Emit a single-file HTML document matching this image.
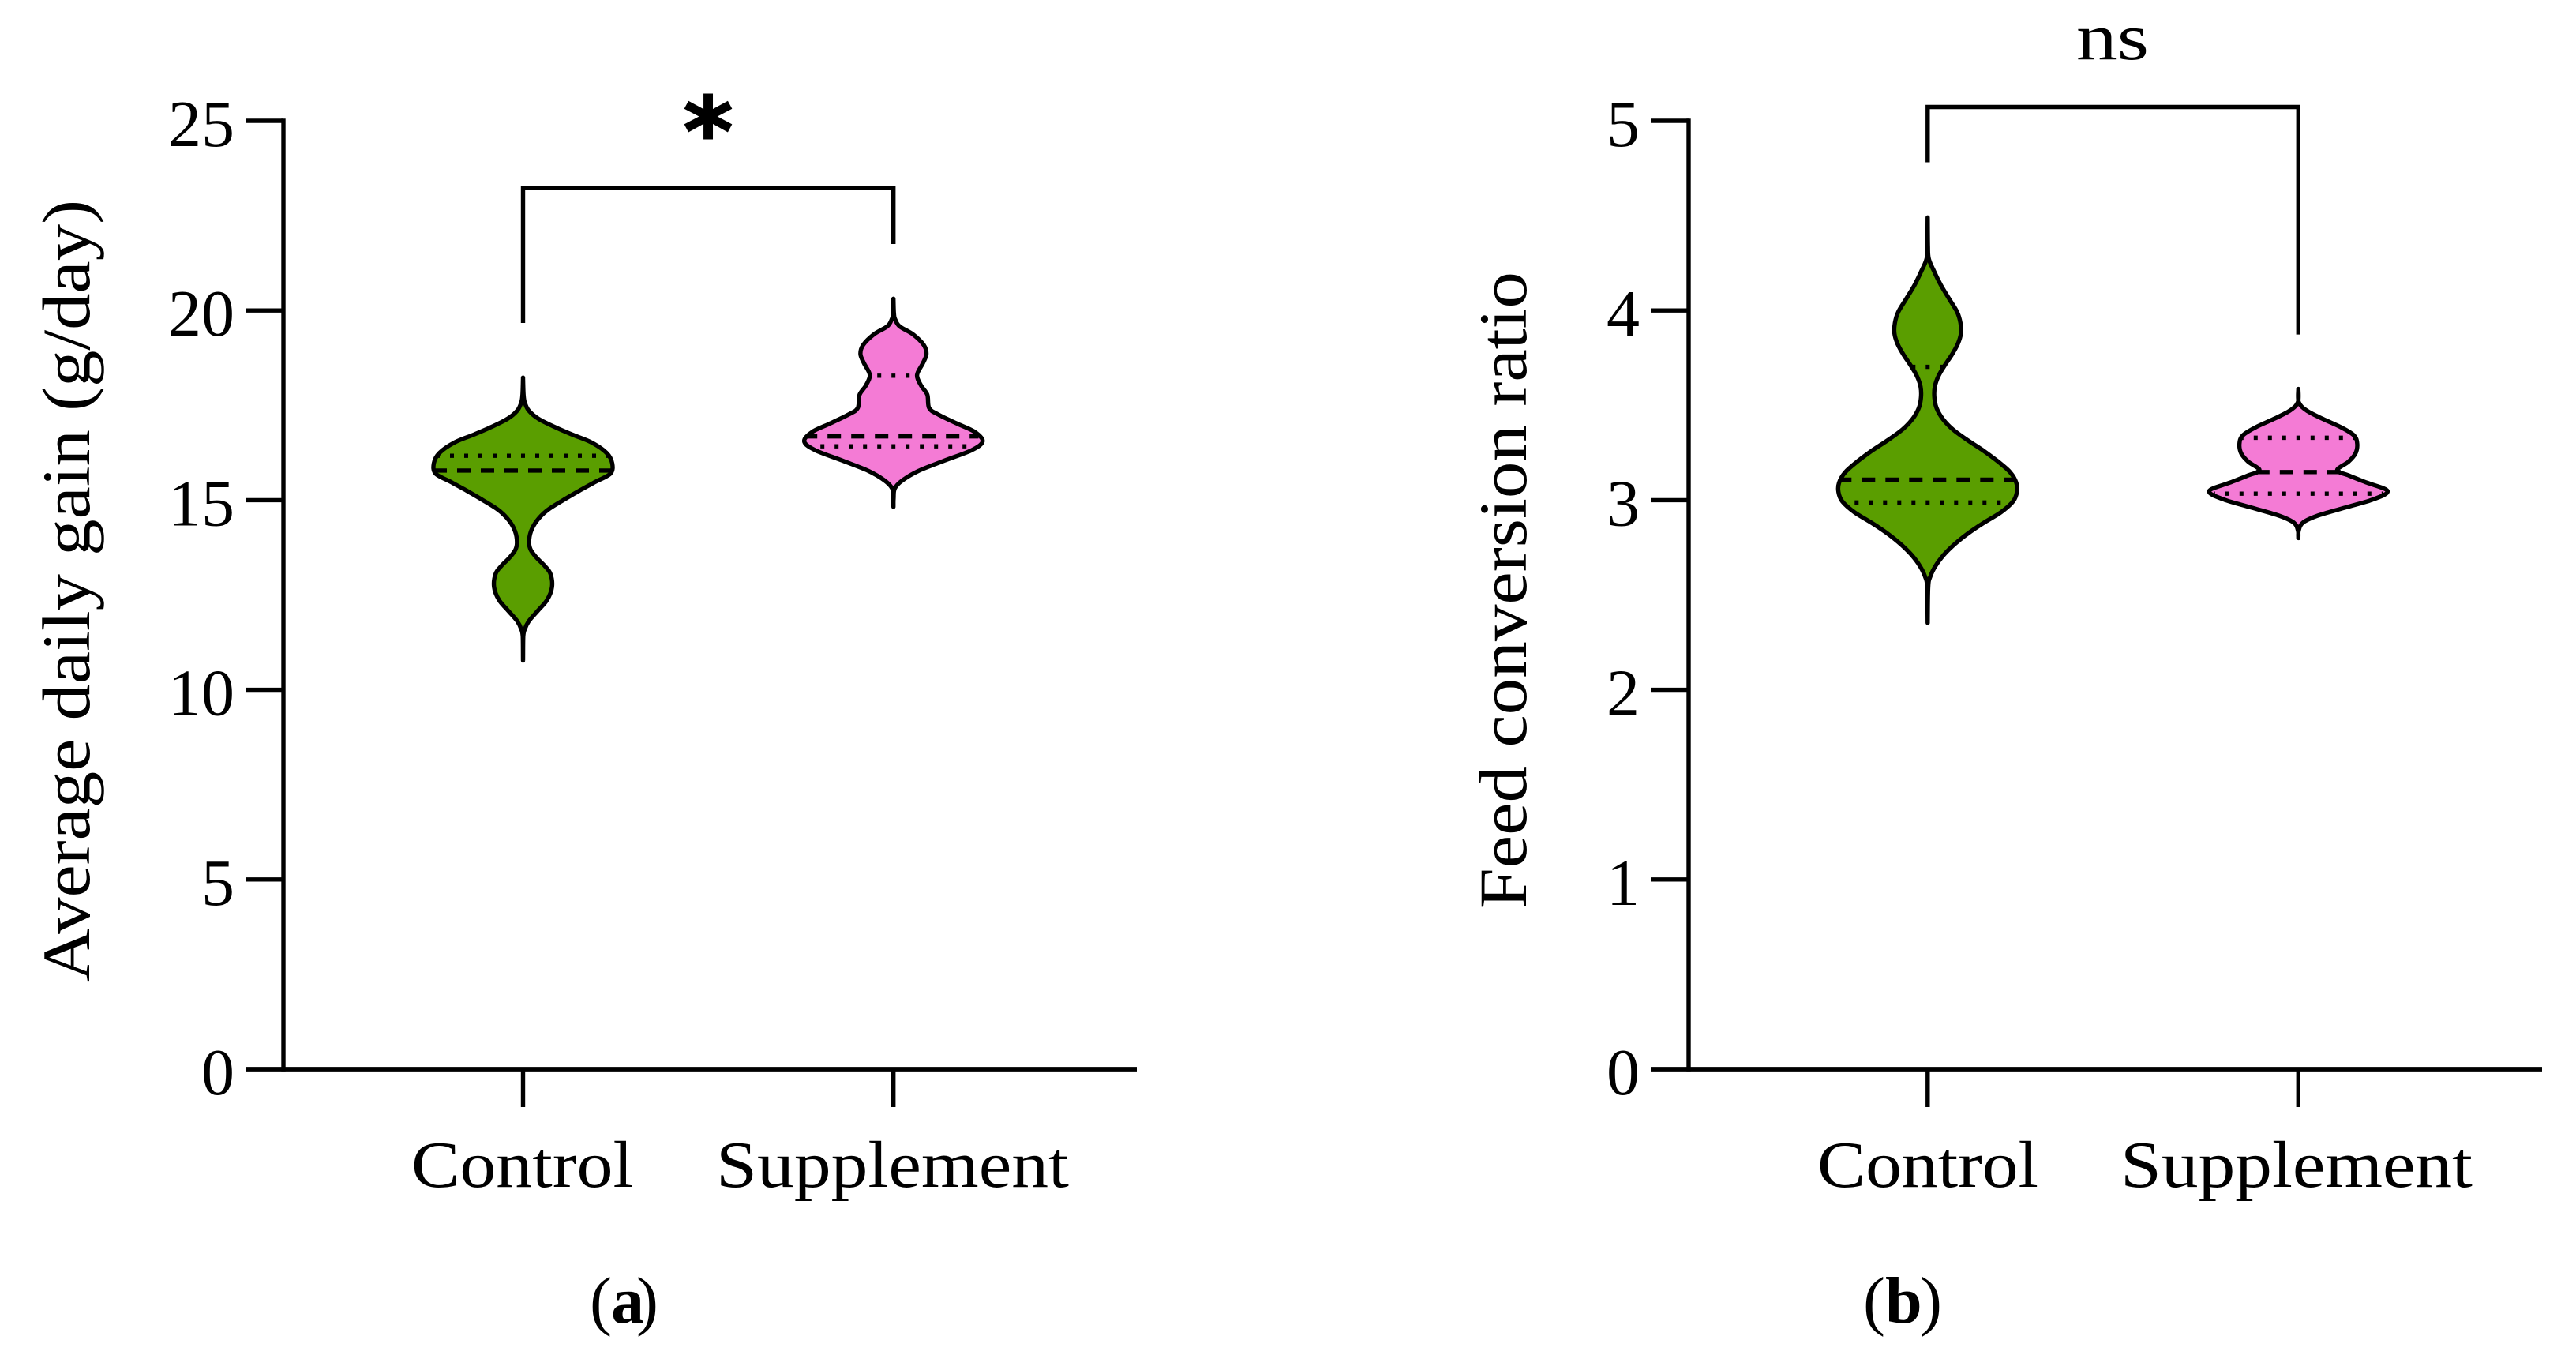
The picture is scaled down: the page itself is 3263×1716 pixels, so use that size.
<!DOCTYPE html>
<html lang="en">
<head>
<meta charset="utf-8">
<title>Violin plots: average daily gain and feed conversion ratio</title>
<style>
html,body{margin:0;padding:0;background:#fff;}
svg{display:block;}
text{font-family:"Liberation Serif","DejaVu Serif",serif;fill:#000;}
</style>
</head>
<body>
<svg id="figure" xmlns="http://www.w3.org/2000/svg" width="3263" height="1716" viewBox="0 0 3263 1716"></svg>
<script>
// Panel (a): average daily gain (g/day)
const gainTicks = [0, 5, 10, 15, 20, 25];
const gainControlValues = [18.23,17.78,17.57,17.36,17.15,16.94,16.73,16.53,16.25,15.97,15.70,15.49,15.28,15.0,14.73,14.45,14.17,13.89,13.69,13.48,13.27,13.06,12.71,12.37,12.09,11.81,11.60,11.40,10.77];
const gainControlDensity = [0,0.006,0.02,0.065,0.17,0.345,0.55,0.76,0.935,1,0.98,0.817,0.655,0.45,0.27,0.153,0.088,0.068,0.086,0.153,0.242,0.307,0.325,0.27,0.168,0.065,0.02,0.003,0];
const gainControlMedian = 15.78;
const gainControlQuartiles = [16.17];
const gainSupplementValues = [20.31,19.93,19.76,19.58,19.37,19.09,18.85,18.61,18.30,18.02,17.78,17.43,17.26,17.01,16.80,16.55,16.32,16.04,15.77,15.52,15.31,15.05,14.82];
const gainSupplementDensity = [0,0.005,0.02,0.07,0.22,0.34,0.37,0.33,0.265,0.31,0.38,0.40,0.50,0.72,0.91,1,0.88,0.57,0.28,0.10,0.015,0.002,0];
const gainSupplementMedian = 16.68;
const gainSupplementQuartiles = [18.28, 16.42];

// Panel (b): feed conversion ratio
const fcrTicks = [0, 1, 2, 3, 4, 5];
const fcrControlValues = [4.491,4.343,4.273,4.203,4.132,4.062,3.992,3.935,3.879,3.823,3.766,3.710,3.654,3.598,3.541,3.485,3.428,3.372,3.316,3.260,3.203,3.147,3.091,3.042,2.992,2.936,2.880,2.823,2.767,2.711,2.655,2.598,2.542,2.352];
const fcrControlDensity = [0,0.003,0.012,0.075,0.15,0.24,0.33,0.367,0.373,0.337,0.27,0.19,0.12,0.08,0.075,0.1,0.17,0.284,0.448,0.627,0.79,0.925,0.994,1,0.955,0.82,0.627,0.448,0.3,0.18,0.09,0.03,0.006,0];
const fcrControlMedian = 3.108;
const fcrControlQuartiles = [3.703, 2.988];
const fcrSupplementValues = [3.586,3.516,3.472,3.428,3.384,3.341,3.297,3.246,3.202,3.158,3.129,3.092,3.048,3.004,2.961,2.917,2.881,2.84,2.80];
const fcrSupplementDensity = [0,0.005,0.095,0.276,0.48,0.624,0.66,0.64,0.56,0.435,0.57,0.77,1,0.84,0.525,0.21,0.05,0.004,0];
const fcrSupplementMedian = 3.148;
const fcrSupplementQuartiles = [3.329, 3.034];

const NS = 'http://www.w3.org/2000/svg';
const fig = document.getElementById('figure');
const GREEN = '#5a9e00';
const PINK = '#f47bd5';
const LW = 5.4;
const Y_BASE = 1354;
const Y_TOP = 153;
const MAX_HALF = 113;

function make(tag, parent, attrs) {
  const el = document.createElementNS(NS, tag);
  for (const k in attrs) el.setAttribute(k, attrs[k]);
  parent.appendChild(el);
  return el;
}

function drawLine(parent, name, x1, y1, x2, y2, w) {
  const el = make('line', parent, {x1: x1, y1: y1, x2: x2, y2: y2, stroke: '#000', 'stroke-width': w || LW});
  
  
  return el;
}

function drawText(parent, name, str, attrs) {
  const el = make('text', parent, Object.assign({'font-size': 84}, attrs));
  el.textContent = str;
  
  
  return el;
}

function densityAt(values, density, v) {
  for (let i = 0; i < values.length - 1; i++) {
    if (v <= values[i] && v >= values[i + 1]) {
      const t = (values[i] - v) / (values[i] - values[i + 1]);
      return density[i] + t * (density[i + 1] - density[i]);
    }
  }
  return 0;
}

// Catmull-Rom smoothing through (x, y) samples
function smooth(pts) {
  let d = '';
  for (let i = 0; i < pts.length - 1; i++) {
    const p0 = pts[Math.max(i - 1, 0)], p1 = pts[i], p2 = pts[i + 1], p3 = pts[Math.min(i + 2, pts.length - 1)];
    const c1x = p1[0] + (p2[0] - p0[0]) / 6, c1y = p1[1] + (p2[1] - p0[1]) / 6;
    const c2x = p2[0] - (p3[0] - p1[0]) / 6, c2y = p2[1] - (p3[1] - p1[1]) / 6;
    d += 'C' + c1x.toFixed(1) + ' ' + c1y.toFixed(1) + ' ' + c2x.toFixed(1) + ' ' + c2y.toFixed(1) + ' ' + p2[0].toFixed(1) + ' ' + p2[1].toFixed(1);
  }
  return d;
}

function drawStatLine(parent, name, cx, y, half, dash, gap, centreOnDash) {
  const x1 = cx - half;
  const offset = centreOnDash ? -(half - dash / 2) : -(half + gap / 2);
  const el = make('line', parent, {
    x1: x1, y1: y, x2: cx + half, y2: y,
    stroke: '#000', 'stroke-width': 5.4,
    'stroke-dasharray': dash + ' ' + gap,
    'stroke-dashoffset': offset
  });
  
  
}

function drawViolin(parent, name, cx, yScale, values, density, median, quartiles, colour) {
  const g = make('g', parent, {});
  
  
  const left = values.map((v, i) => [cx - density[i] * MAX_HALF, yScale(v)]);
  const right = values.map((v, i) => [cx + density[i] * MAX_HALF, yScale(v)]).reverse();
  const d = 'M' + left[0][0].toFixed(1) + ' ' + left[0][1].toFixed(1) + smooth(left) + smooth(right) + 'Z';
  const body = make('path', g, {d: d, fill: colour, stroke: '#000', 'stroke-width': LW, 'stroke-linejoin': 'round'});
  
  
  quartiles.forEach((q, i) => {
    const half = densityAt(values, density, q) * MAX_HALF;
    drawStatLine(g, name + '-quartile-' + (i + 1), cx, yScale(q), half, 5, 13, true);
  });
  const mh = densityAt(values, density, median) * MAX_HALF;
  drawStatLine(g, name + '-median', cx, yScale(median), mh, 17, 13, false);
}

function drawAxes(parent, name, opt) {
  const g = make('g', parent, {});
  
  
  drawLine(g, name + '-y-axis', opt.axisX, Y_TOP - LW / 2, opt.axisX, Y_BASE + LW / 2);
  drawLine(g, name + '-x-axis', opt.tickLeft, Y_BASE, opt.xEnd, Y_BASE, 5.8);
  opt.ticks.forEach(t => {
    const y = opt.yScale(t);
    if (t !== 0) drawLine(g, name + '-y-tick-' + t, opt.tickLeft, y, opt.axisX, y);
    drawText(g, name + '-y-tick-label-' + t, String(t), {x: opt.labelRight, y: y + 32, 'text-anchor': 'end'});
  });
  drawLine(g, name + '-x-tick-control', opt.cats[0], Y_BASE, opt.cats[0], 1402);
  drawLine(g, name + '-x-tick-supplement', opt.cats[1], Y_BASE, opt.cats[1], 1402);
  drawText(g, name + '-x-label-control', 'Control', {x: opt.controlLabel[0], y: 1503, textLength: opt.controlLabel[1], lengthAdjust: 'spacingAndGlyphs'});
  drawText(g, name + '-x-label-supplement', 'Supplement', {x: opt.suppLabel[0], y: 1503, textLength: opt.suppLabel[1], lengthAdjust: 'spacingAndGlyphs'});
  const title = drawText(g, name + '-y-axis-title', opt.title, {
    transform: 'translate(' + opt.titleX + ' ' + opt.titleBottom + ') rotate(-90)',
    x: 0, y: 0, textLength: opt.titleLength, lengthAdjust: 'spacingAndGlyphs'
  });
  title.setAttribute('font-size', 86);
}

function drawBracket(parent, name, x1, x2, top, b1, b2) {
  const el = make('path', parent, {
    d: 'M' + x1 + ' ' + b1 + 'V' + top + 'H' + x2 + 'V' + b2,
    fill: 'none', stroke: '#000', 'stroke-width': LW, 'stroke-linejoin': 'miter'
  });
  
  
}

function drawCaption(parent, name, letter, xOpen, xLetter, xClose) {
  const t = make('text', parent, {y: 1675, 'font-size': 84});
  
  
  const open = make('tspan', t, {x: xOpen});
  open.textContent = '(';
  const b = make('tspan', t, {x: xLetter, 'font-weight': 'bold'});
  b.textContent = letter;
  const close = make('tspan', t, {x: xClose});
  close.textContent = ')';
}

// Panel (a)
const panelA = make('g', fig, {});


const yGain = v => Y_BASE - v * (Y_BASE - Y_TOP) / 25;
drawAxes(panelA, 'gain', {
  axisX: 359, tickLeft: 311, xEnd: 1440, ticks: gainTicks, yScale: yGain, labelRight: 297,
  cats: [662.5, 1131.7], controlLabel: [521, 281], suppLabel: [907, 447],
  title: 'Average daily gain (g/day)', titleX: 113, titleBottom: 1243, titleLength: 990
});
drawBracket(panelA, 'gain-significance-bracket', 662.5, 1131.7, 238, 409, 309);
const star = make('text', panelA, {x: 897, y: 209, 'font-size': 120, 'text-anchor': 'middle', 'font-weight': 'bold', stroke: '#000', 'stroke-width': 2, style: 'font-family:"DejaVu Sans",sans-serif'});
star.textContent = '*';


drawViolin(panelA, 'gain-control', 662.5, yGain, gainControlValues, gainControlDensity, gainControlMedian, gainControlQuartiles, GREEN);
drawViolin(panelA, 'gain-supplement', 1131.7, yGain, gainSupplementValues, gainSupplementDensity, gainSupplementMedian, gainSupplementQuartiles, PINK);
drawCaption(panelA, 'panel-a-caption', 'a', 747, 774, 806);

// Panel (b)
const panelB = make('g', fig, {});


const yFcr = v => Y_BASE - v * (Y_BASE - Y_TOP) / 5;
drawAxes(panelB, 'fcr', {
  axisX: 2139, tickLeft: 2091, xEnd: 3220, ticks: fcrTicks, yScale: yFcr, labelRight: 2077,
  cats: [2441.8, 2911.3], controlLabel: [2302, 280], suppLabel: [2686, 446],
  title: 'Feed conversion ratio', titleX: 1933, titleBottom: 1151, titleLength: 807
});
drawBracket(panelB, 'fcr-significance-bracket', 2441.8, 2911.3, 135.5, 205.5, 423.6);
drawText(panelB, 'fcr-significance-label', 'ns', {x: 2630, y: 75, textLength: 92, lengthAdjust: 'spacingAndGlyphs'});
drawViolin(panelB, 'fcr-control', 2441.8, yFcr, fcrControlValues, fcrControlDensity, fcrControlMedian, fcrControlQuartiles, GREEN);
drawViolin(panelB, 'fcr-supplement', 2911.3, yFcr, fcrSupplementValues, fcrSupplementDensity, fcrSupplementMedian, fcrSupplementQuartiles, PINK);
drawCaption(panelB, 'panel-b-caption', 'b', 2360, 2388, 2432);
</script>
</body>
</html>
